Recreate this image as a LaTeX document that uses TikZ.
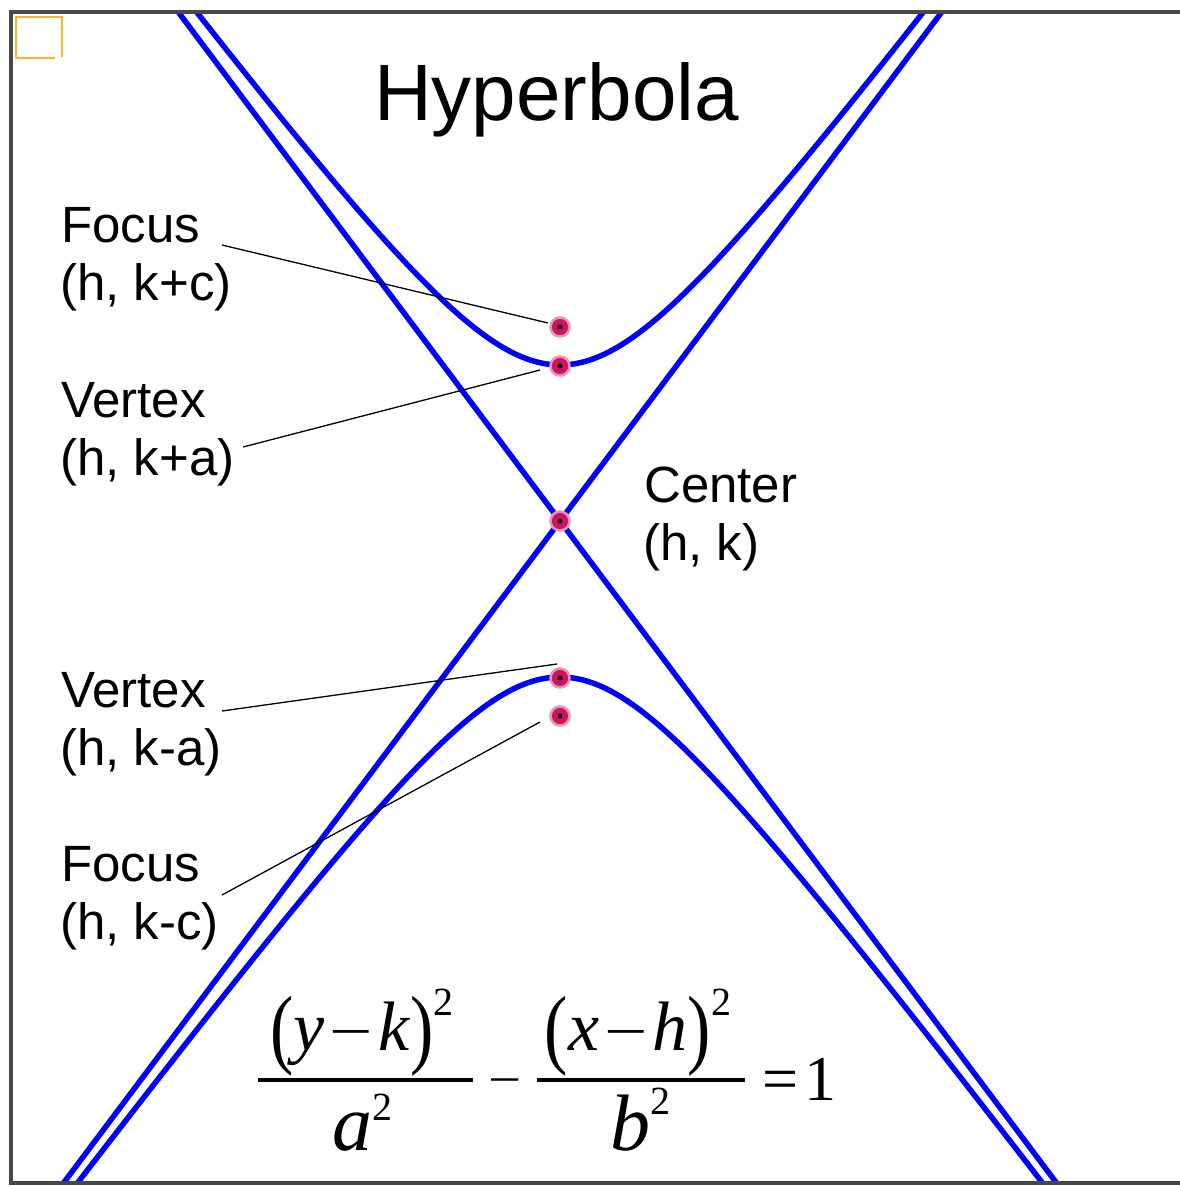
\documentclass[tikz,border=0pt]{standalone}
\usepackage{fontspec}
\setmainfont{Liberation Sans}
\newfontfamily\eqfont{Liberation Serif}
\usepackage{graphicx}
\definecolor{dotpink}{RGB}{205,18,95}
\definecolor{framegray}{RGB}{72,72,72}
\definecolor{gripor}{RGB}{255,180,40}
\begin{document}
\begin{tikzpicture}[x=1pt,y=-1pt,
  hyp/.style={draw=blue, line width=5.5pt},
  leader/.style={draw=black, line width=1.3pt},
  lbl/.style={anchor=base west, inner sep=0pt, font=\fontsize{51}{58}\selectfont},
  dotpt/.style={circle, fill=dotpink, draw=dotpink!45!white, line width=2.5pt, minimum size=19pt, inner sep=0pt},
  eqpart/.style={anchor=base, inner sep=0pt, font=\eqfont},
  bar/.style={draw=black, line width=3.5pt}]
\useasboundingbox (0,0) rectangle (1180,1186);
\fill[white] (0,0) rectangle (1180,1186);

% curves and asymptotes
\begin{scope}
\clip (11,12) rectangle (1180,1183);
\draw[hyp] (560-0.75*750,521-750) -- (560+0.75*750,521+750);
\draw[hyp] (560+0.75*750,521-750) -- (560-0.75*750,521+750);
\draw[hyp] plot[domain=-2.3:2.3, samples=140, smooth, variable=\t] ({560+117*sinh(\t)},{521-156*cosh(\t)});
\draw[hyp] plot[domain=-2.4:2.4, samples=140, smooth, variable=\t] ({560+117*sinh(\t)},{521+156*cosh(\t)});
\end{scope}

% frame
\draw[framegray, line width=4.5pt] (1180,12) -- (11,12) -- (11,1183) -- (1180,1183);
\draw[gripor, line width=2.2pt] (16,58) -- (16,17) -- (62,17) -- (62,57);
\draw[gripor, line width=2.2pt] (16,58) -- (55,58);

% title
\node[anchor=base west, inner sep=0pt, font=\fontsize{80}{90}\selectfont] (title) at (374,120) {Hyperbola};

% labels
\node[lbl] (fT1) at (61,242) {Focus};
\node[lbl] (fT2) at (60,300) {(h, k+c)};
\node[lbl] (vT1) at (61,417) {Vertex};
\node[lbl] (vT2) at (60,475) {(h, k+a)};
\node[lbl] (c1) at (644,502) {Center};
\node[lbl] (c2) at (643,560) {(h, k)};
\node[lbl] (vB1) at (61,707) {Vertex};
\node[lbl] (vB2) at (60,765) {(h, k-a)};
\node[lbl] (fB1) at (61,881) {Focus};
\node[lbl] (fB2) at (60,939) {(h, k-c)};

% points
\node[dotpt] (pFT) at (560,327) {};
\node[dotpt] (pVT) at (560,366) {};
\node[dotpt] (pC)  at (560,521) {};
\node[dotpt] (pVB) at (560,678) {};
\node[dotpt] (pFB) at (560,716) {};
\foreach \p in {pFT,pVT,pC,pVB,pFB} \fill[black] (\p) circle (2.4pt);

% leaders
\coordinate (sFT) at (222,245); \coordinate (eFT) at (548,323);
\coordinate (sVT) at (243,447); \coordinate (eVT) at (540,370);
\coordinate (sVB) at (222,711); \coordinate (eVB) at (557,664);
\coordinate (sFB) at (222,895); \coordinate (eFB) at (540,722);
\draw[leader] (sFT) -- (eFT);
\draw[leader] (sVT) -- (eVT);
\draw[leader] (sVB) -- (eVB);
\draw[leader] (sFB) -- (eFB);

% equation
\node[eqpart, font=\eqfont\fontsize{70}{70}\selectfont] (num1) at (362,1050)
  {\raisebox{-7pt}{\scalebox{1}[1.26]{(}}\textit{y}\hspace{5pt}\scalebox{1.1}[0.8]{−}\hspace{5pt}\textit{k}\raisebox{-7pt}{\scalebox{1}[1.26]{)}}\raisebox{35pt}{\fontsize{40}{40}\selectfont 2}};
\node[eqpart, font=\eqfont\fontsize{80}{80}\selectfont] (den1) at (362,1150)
  {\textit{a}\raisebox{30pt}{\fontsize{40}{40}\selectfont 2}};
\node[eqpart, font=\eqfont\fontsize{70}{70}\selectfont] (num2) at (638,1050)
  {\raisebox{-7pt}{\scalebox{1}[1.26]{(}}\textit{x}\hspace{5pt}\scalebox{1.1}[0.8]{−}\hspace{5pt}\textit{h}\raisebox{-7pt}{\scalebox{1}[1.26]{)}}\raisebox{35pt}{\fontsize{40}{40}\selectfont 2}};
\node[eqpart, font=\eqfont\fontsize{80}{80}\selectfont] (den2) at (640,1150)
  {\textit{b}\raisebox{36pt}{\fontsize{40}{40}\selectfont 2}};
\coordinate (b1a) at (258,1080); \coordinate (b1b) at (473,1080);
\coordinate (b2a) at (537,1080); \coordinate (b2b) at (745,1080);
\draw[bar] (b1a) -- (b1b);
\draw[bar] (b2a) -- (b2b);
\node[eqpart, font=\eqfont\fontsize{62}{62}\selectfont] (minus) at (505,1096) {\scalebox{0.95}[0.8]{−}};
\node[eqpart, anchor=base west, font=\eqfont\fontsize{64}{64}\selectfont] (eq) at (762,1100) {=\hspace{6pt}1};
\end{tikzpicture}
\end{document}
